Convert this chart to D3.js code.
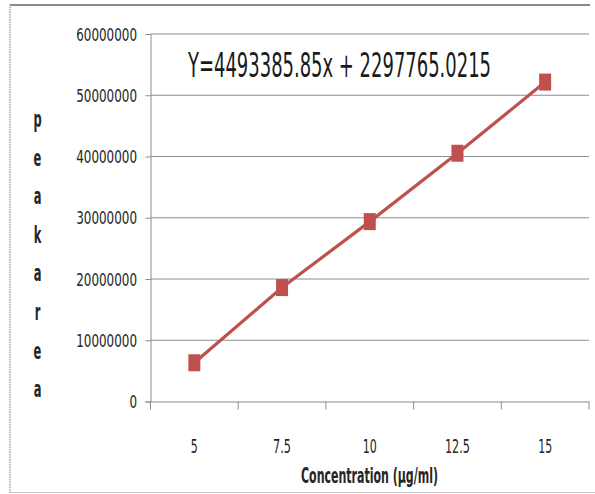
<!DOCTYPE html>
<html>
<head>
<meta charset="utf-8">
<script src="https://cdn.jsdelivr.net/npm/d3@7"></script>
<style>
  body { margin: 0; background: #fff; }
  svg { display: block; }
  .narrow { font-family: "Liberation Sans Narrow", "DejaVu Sans Condensed", "DejaVu Sans", sans-serif; }
</style>
</head>
<body>
<div id="chart"></div>
<script>
// chart data
var concentrations = ["5", "7.5", "10", "12.5", "15"];
var peakAreas = [6320000, 18600000, 29370000, 40530000, 52150000];
var yTicks = [0, 10000000, 20000000, 30000000, 40000000, 50000000, 60000000];
var yTitleLetters = ["p", "e", "a", "k", "a", "r", "e", "a"];
var equation = "Y=4493385.85x + 2297765.0215";
var xTitle = "Concentration (µg/ml)";

var width = 595, height = 494;
var plot = {left: 150.5, right: 589, top: 34, bottom: 401.5};
var red = "#c0504d";

// rough glyph widths of the squeezed chart font, used for textLength
function textWidth(s, digit, dot) {
    return s.split("").reduce(function(w, c) { return w + (c === "." ? dot : digit); }, 0);
}

var svg = d3.select("#chart").append("svg")
    .attr("width", width)
    .attr("height", height);

// outer frame (top, left, bottom only)
svg.append("line").attr("x1", 10).attr("x2", 590).attr("y1", 5).attr("y2", 5)
    .attr("stroke", "#8a8a8a").attr("stroke-width", 2);
svg.append("line").attr("x1", 10).attr("x2", 10).attr("y1", 4).attr("y2", 493)
    .attr("stroke", "#a8a8a8").attr("stroke-width", 1.5).attr("stroke-dasharray", "1.5,1");
svg.append("line").attr("x1", 10).attr("x2", 595).attr("y1", 492.5).attr("y2", 492.5)
    .attr("stroke", "#c8c8c8").attr("stroke-width", 1);

// scales
var x = d3.scaleBand().domain(concentrations).range([plot.left, plot.right]).padding(0);
var y = d3.scaleLinear().domain([0, 60000000]).range([plot.bottom, plot.top]);

// gridlines
svg.append("g")
    .selectAll("line")
    .data(yTicks.filter(function(d) { return d > 0; }))
    .join("line")
    .attr("x1", plot.left).attr("x2", plot.right)
    .attr("y1", function(d) { return y(d); })
    .attr("y2", function(d) { return y(d); })
    .attr("stroke", "#8c8c8c").attr("stroke-width", 1);

// y axis
var yAxis = d3.axisLeft(y).tickValues(yTicks).tickSize(5).tickPadding(8.5)
    .tickFormat(d3.format("d"));
var gy = svg.append("g")
    .attr("transform", "translate(" + plot.left + ",0)")
    .call(yAxis);
gy.select(".domain").attr("stroke", "#8c8c8c");
gy.selectAll(".tick line").attr("stroke", "#8c8c8c");
gy.selectAll(".tick text")
    .attr("class", "narrow")
    .attr("font-size", 16.5)
    .attr("fill", "#262626")
    .attr("dy", null)
    .attr("y", 0)
    .attr("textLength", function(d) { return textWidth(d3.format("d")(d), 7.6, 3.5); })
    .attr("lengthAdjust", "spacingAndGlyphs")
    .attr("transform", "translate(0,6) scale(1,1.05)");

// x axis: labels in band centres, ticks at band edges
var xAxis = d3.axisBottom(x).tickSize(0).tickPadding(0);
var gx = svg.append("g")
    .attr("transform", "translate(0," + plot.bottom + ")")
    .call(xAxis);
gx.select(".domain").attr("stroke", "#8c8c8c").attr("d", "M" + plot.left + ",0.5H" + plot.right);
gx.selectAll(".tick text")
    .attr("class", "narrow")
    .attr("font-size", 16)
    .attr("fill", "#262626")
    .attr("dy", null)
    .attr("y", 0)
    .attr("textLength", function(d) { return textWidth(d, 7, 4); })
    .attr("lengthAdjust", "spacingAndGlyphs")
    .attr("transform", "translate(0,51) scale(1,1.2)");
var edges = concentrations.map(function(c) { return x(c); }).concat([plot.right]);
gx.append("g").selectAll("line")
    .data(edges)
    .join("line")
    .attr("x1", function(d) { return d; }).attr("x2", function(d) { return d; })
    .attr("y1", 0).attr("y2", 8)
    .attr("stroke", "#8c8c8c");

// series line
var line = d3.line()
    .x(function(d, i) { return x(concentrations[i]) + x.bandwidth() / 2; })
    .y(function(d) { return y(d); });
svg.append("path")
    .datum(peakAreas)
    .attr("d", line)
    .attr("fill", "none")
    .attr("stroke", red)
    .attr("stroke-width", 3.2);

// square markers
var mw = 12, mh = 17;
svg.append("g").selectAll("rect")
    .data(peakAreas)
    .join("rect")
    .attr("x", function(d, i) { return x(concentrations[i]) + x.bandwidth() / 2 - mw / 2; })
    .attr("y", function(d) { return y(d) - mh / 2; })
    .attr("width", mw).attr("height", mh)
    .attr("fill", red);

// trendline equation
svg.append("text")
    .attr("class", "narrow")
    .attr("font-size", 25)
    .attr("fill", "#1a1a1a")
    .attr("textLength", 303)
    .attr("lengthAdjust", "spacingAndGlyphs")
    .attr("transform", "translate(188,77) scale(1,1.38)")
    .text(equation);

// x axis title
svg.append("text")
    .attr("class", "narrow")
    .attr("font-size", 16)
    .attr("font-weight", "bold")
    .attr("fill", "#262626")
    .attr("textLength", 137)
    .attr("lengthAdjust", "spacingAndGlyphs")
    .attr("transform", "translate(301,483) scale(1,1.3)")
    .text(xTitle);

// y axis title, one letter per line
svg.append("g").selectAll("text")
    .data(yTitleLetters)
    .join("text")
    .attr("class", "narrow")
    .attr("font-size", 17)
    .attr("font-weight", "bold")
    .attr("fill", "#262626")
    .attr("text-anchor", "middle")
    .attr("transform", function(d, i) { return "translate(37.5," + (127 + 38.6 * i) + ") scale(0.75,1.35)"; })
    .text(function(d) { return d; });
</script>
</body>
</html>
